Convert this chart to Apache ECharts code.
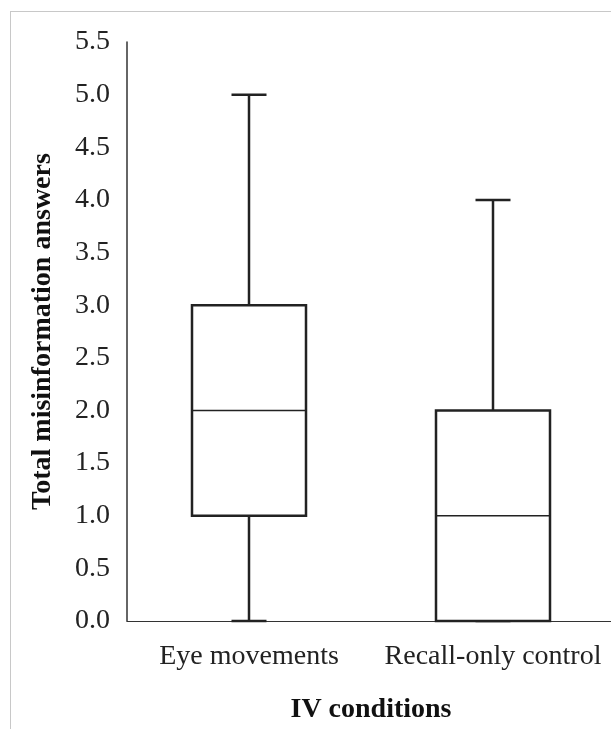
<!DOCTYPE html>
<html>
<head>
<meta charset="utf-8">
<script src="https://cdn.jsdelivr.net/npm/echarts@6/dist/echarts.min.js"></script>
<style>
html, body { margin: 0; padding: 0; background: #fff; overflow: hidden; width: 611px; height: 729px; }
#frame { position: absolute; left: 10px; top: 11px; width: 640px; height: 760px; border: 1px solid #c8c8c8; }
#chart { position: absolute; left: 0; top: 0; width: 615px; height: 729px; }
</style>
</head>
<body>
<div id="frame"></div>
<div id="chart"></div>
<script>
// box plot values per condition
var categories = ['Eye movements', 'Recall-only control'];
var minData = [0, 0];
var q1Data = [1, 0];
var medianData = [2, 1];
var q3Data = [3, 2];
var maxData = [5, 4];

var boxData = categories.map(function(c, i) {
    return [i, minData[i], q1Data[i], medianData[i], q3Data[i], maxData[i]];
});

/**
 * draws one box with whiskers
 */
function renderBox(params, api) {
    var x = api.value(0);
    var pMin = api.coord([x, api.value(1)]);
    var pQ1 = api.coord([x, api.value(2)]);
    var pMed = api.coord([x, api.value(3)]);
    var pQ3 = api.coord([x, api.value(4)]);
    var pMax = api.coord([x, api.value(5)]);
    var cx = pMin[0];
    var hb = 57, hc = 17.5;
    var st = { stroke: '#222', lineWidth: 2.5, fill: null };
    return {
        type: 'group',
        children: [
            { type: 'line', shape: { x1: cx, y1: pQ3[1], x2: cx, y2: pMax[1] }, style: st },
            { type: 'line', shape: { x1: cx - hc, y1: pMax[1], x2: cx + hc, y2: pMax[1] }, style: st },
            { type: 'line', shape: { x1: cx, y1: pQ1[1], x2: cx, y2: pMin[1] }, style: st },
            { type: 'line', shape: { x1: cx - hc, y1: pMin[1], x2: cx + hc, y2: pMin[1] }, style: st },
            { type: 'rect', shape: { x: cx - hb, y: pQ3[1], width: hb * 2, height: pQ1[1] - pQ3[1] },
              style: { fill: '#fff', stroke: '#222', lineWidth: 2.5 } },
            { type: 'line', shape: { x1: cx - hb, y1: pMed[1], x2: cx + hb, y2: pMed[1] },
              style: { stroke: '#222', lineWidth: 1.5 } }
        ]
    };
}

var chart = echarts.init(document.getElementById('chart'));
var font = '"Liberation Serif", "Times New Roman", serif';
var option = {
    animation: false,
    grid: {
        left: 127,
        right: 0,
        top: 42,
        bottom: 107
    },
    xAxis: {
        type: 'category',
        data: categories,
        name: 'IV conditions',
        nameLocation: 'middle',
        nameGap: 75,
        nameTextStyle: { fontFamily: font, fontSize: 28, fontWeight: 'bold', color: '#111' },
        axisTick: { show: false },
        axisLine: { lineStyle: { color: '#333', width: 1 } },
        axisLabel: { fontFamily: font, fontSize: 28, color: '#222', margin: 22, interval: 0 }
    },
    yAxis: {
        type: 'value',
        min: 0,
        max: 5.5,
        interval: 0.5,
        name: 'Total misinformation answers',
        nameLocation: 'middle',
        nameGap: 70,
        nameTextStyle: { fontFamily: font, fontSize: 28, fontWeight: 'bold', color: '#111' },
        axisLine: { show: true, lineStyle: { color: '#333', width: 1.5 } },
        axisTick: { show: false },
        splitLine: { show: false },
        axisLabel: {
            fontFamily: font, fontSize: 28, color: '#222', margin: 17,
            formatter: function(v) { return v.toFixed(1); }
        }
    },
    series: [{
        type: 'custom',
        renderItem: renderBox,
        encode: { x: 0, y: [1, 2, 3, 4, 5] },
        data: boxData
    }]
};
chart.setOption(option);
</script>
</body>
</html>
